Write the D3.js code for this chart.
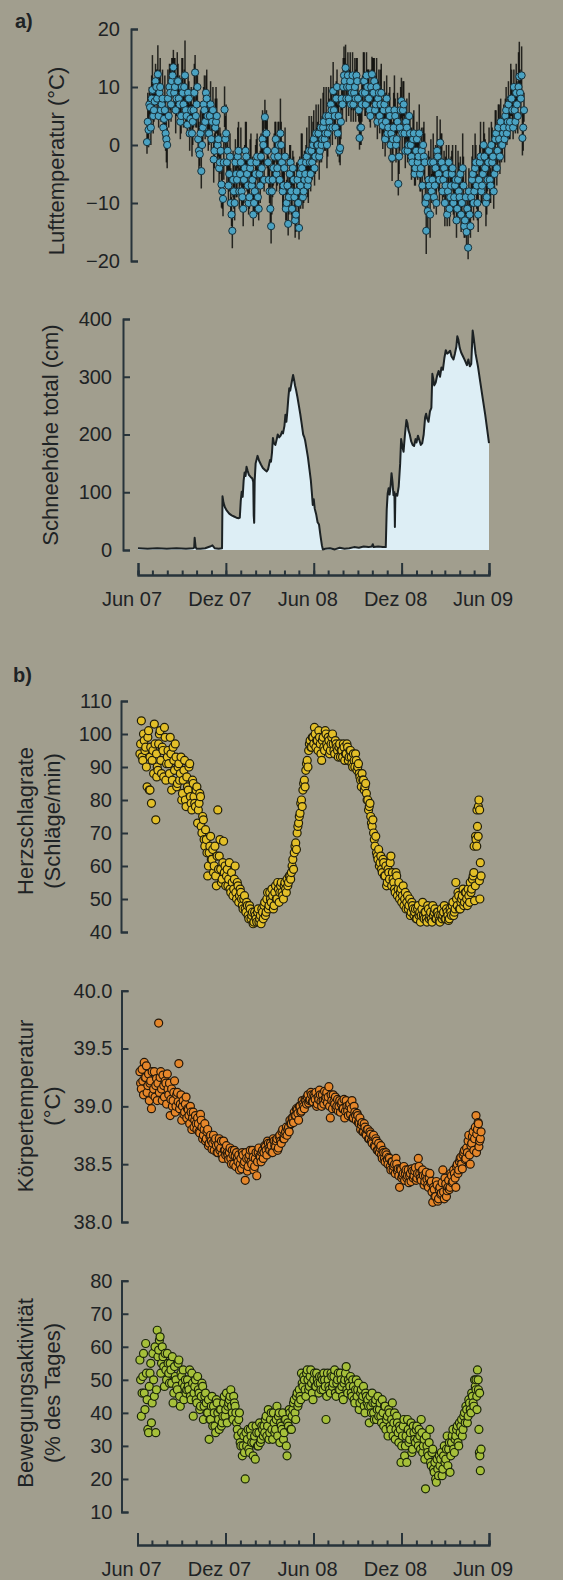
<!DOCTYPE html>
<html><head><meta charset="utf-8">
<script src="https://cdn.jsdelivr.net/npm/d3@7"></script>
<style>
html,body{margin:0;padding:0;background:#a19e8e;}
svg{display:block;}
text{font-family:"Liberation Sans",Arial,Helvetica,sans-serif;fill:#1e2325;}
</style></head><body>
<svg id="c" width="563" height="1580"></svg>
<script>
// ---------- DATA ----------
// time reference: days since 1 Jun 2007
const startDate = Date.UTC(2007, 5, 1);
const xTickDates = ["2007-06-01","2007-12-01","2008-06-01","2008-12-01","2009-06-01"];
const xTickLabels = ["Jun 07","Dez 07","Jun 08","Dez 08","Jun 09"];

// a) Air temperature: daily mean + range (two interleaved day sets, 3-day steps)
const tempStepDays = 3;
const tempStartA = 0, tempStartB = 1.5;
const tempMean = [
 0.5,2.6,6.5,8,5,7.5,10,12.2,9,6,
 8,4.5,2,0,5,9,11,13.4,10,8,
 11,7,5,9,10,6,3.5,8,4.5,2,
 6,12.5,7,1,-1.6,-4.5,3,6,9,5,
 2,7,4,-2.5,3,5,1,-3,-6.8,-9.3,
 6.1,2,-1,-5,-10,-14.8,-8,-3,-6,-1,
 -5,-8,-11,-4,-2,-7,-9,-3,-6,-10,
 -5,-2,-11,-7,-4,0,4.8,2,-3,-8,
 -14,-6,-2,1,-4,0,2,-3,-7,-2,
 -10,-13.6,-5,-8,-4,-9,-12,-6,-14.3,-7,
 -4,-8,-5,-2,-6,-3,-1,0,-4,2,
 0,-2,3,1,4,2,0,5,3,6,
 9.3,5,8,2,-1,4,7,12,13.3,10,
 8,11,9,7,10,12,8,1.2,3,9,
 11,7,10,8,5,12.2,9,6,10,8,
 5,9,3.3,7,4,2,6,0,-2.2,3,
 5,1,-6.7,3,7.6,6,2,4,-1,5,
 0,-3,2,-4,1,-2,-5,-1,0,-3,
 -14.8,-11.4,-7,-3,-6,-9,-4,-1,-5,0.4,
 -3,-6,-10,-5,-8,-11,-7,-4,-9,-6,
 -11,-8,-5,-10,-7,-13,-15,-17.7,-12,-9,
 -5,-8,-3,-10,-6,-2,-7,0,-4,-9,
 -3,-6,0,-2,-5,2,-1,1,4,0,
 3,5,2,7,4,8,3,6,9,5,
 11.8,8,1.2,6];
const tempUp = [
 4,5,3,4,6,4,3,5,4,3, 5,4,6,3,4,5,4,3,5,4, 3,5,4,6,3,4,5,3,4,5, 4,3,5,4,3,5,4,6,3,4,
 5,4,3,4,5,3,4,6,4,3, 4,5,3,4,6,3,5,4,3,5, 4,3,5,4,6,4,3,5,4,3, 5,4,3,6,4,5,3,4,5,4,
 3,5,4,3,5,4,6,3,4,5, 4,3,5,4,3,5,4,3,5,4, 6,3,4,5,3,4,6,4,3,5, 4,3,5,4,6,3,4,5,3,4,
 5,4,3,5,6,4,3,5,4,3, 4,5,3,4,5,3,4,5,4,3, 5,4,3,5,4,3,6,4,5,3, 4,5,3,4,5,4,3,5,4,6,
 3,4,5,3,4,5,4,3,5,4, 3,5,4,6,3,4,5,4,3,5, 4,3,5,4,3,5,4,6,3,4, 5,3,4,5,4,3,5,4,3,6,
 4,5,3,4,5,3,4,5,4,3, 5,4,3,5,4,6,3,4,5,4, 3,5,4,3,5,4,3,6,4,5, 4,3,5,4,3,5,4,3,5,4,
 6,4,5,3];
const tempDown = [
 2,3,4,2,3,3,2,4,3,2, 3,2,3,4,2,3,3,2,4,3, 2,3,3,2,4,3,2,3,3,4, 3,2,4,3,2,3,3,2,4,3,
 2,3,3,4,2,3,3,2,4,3, 3,2,4,3,2,3,3,2,3,4, 2,3,3,2,4,3,2,3,3,2, 4,3,2,3,3,4,2,3,3,2,
 3,3,4,2,3,3,2,4,3,2, 3,2,3,4,3,2,3,3,2,4, 3,2,3,3,4,2,3,2,3,3, 2,4,3,3,2,3,4,2,3,3,
 2,3,3,4,2,3,3,2,4,3, 3,2,3,3,2,4,3,2,3,3, 4,2,3,3,2,3,4,3,2,3, 3,2,4,3,3,2,3,3,4,2,
 3,3,2,4,3,2,3,3,2,4, 3,2,3,3,4,2,3,3,2,3, 4,3,2,3,3,2,4,3,3,2, 3,3,4,2,3,3,2,3,4,3,
 2,3,3,4,2,3,3,2,3,3, 4,2,3,3,2,4,3,3,2,3, 3,4,2,3,3,2,3,4,3,2, 3,3,2,4,3,3,2,3,4,3,
 2,3,3,2];
const tempMean2 = [
 4,7,3,9.5,6,11,8,5,10,7,
 3,6,1,8,10,7,12,9,6,11,
 8,4,10,7,12,5,9,2,6,4,
 9,5,10,-1,2,0,7,4,8,2,
 5,1,6,-1,4,0,-4,-1,-8,-3,
 1,-3,-7,-2,-12,-6,-10,-5,-2,-8,
 -3,-9,-6,-1,-5,-10,-4,-7,-12,-8,
 -3,-9,-5,-2,1,-6,2,-1,-6,-11,
 -8,-4,-1,-5,-2,-6,0,-8,-4,-11,
 -7,-9,-3,-11,-6,-13,-8,-10,-5,-3,
 -9,-6,-3,-7,-1,-5,-3,1,-2,0,
 2,-1,0,3,1,5,2,4,7,3,
 6,3,10,5,-0.5,8,10,11,8,12,
 10,7,12,9,8,11,6,3,7,11,
 9,12,8,6,10,9,11,7,4,9,
 7,4,6,1,8,3,5,2,1,6,
 0,4,-2,6,2,7,-1,3,0,2,
 -2,1,-5,-1,-3,2,-4,-7,-2,-10,
 -9,-6,-12,-8,-3,-7,-10,-2,-6,-3,
 -8,-4,-7,-12,-3,-9,-5,-10,-7,-13,
 -6,-9,-12,-4,-14,-9,-11,-8,-14,-6,
 -10,-4,-7,-12,-3,-8,-5,-2,-10,-6,
 -1,-7,-3,-8,1,-4,3,-2,0,2,
 1,6,4,3,8,6,10,4,7,10,
 9,12,3];
const tempUp2 = [
 5,3,4,6,4,3,5,4,5,3, 4,6,3,5,4,4,3,6,4,5, 3,4,5,3,6,4,3,5,4,3, 5,4,3,5,4,6,3,4,5,4,
 3,5,4,3,6,4,5,3,4,5, 4,3,6,4,3,5,4,3,5,4, 6,4,3,5,4,3,5,4,6,3, 4,5,3,4,5,4,3,6,4,5,
 4,3,5,4,6,3,4,5,4,3, 5,4,3,6,4,3,5,4,3,5, 4,5,3,4,6,4,3,5,4,3, 5,3,4,6,4,5,3,4,5,3,
 4,6,3,5,4,3,5,4,6,4, 3,5,4,3,5,4,3,6,4,5, 3,4,5,4,3,6,4,5,3,4, 6,4,3,5,4,3,5,4,3,6,
 4,5,3,4,6,4,3,5,4,3, 5,4,6,3,4,5,3,4,6,4, 3,5,4,3,5,4,6,3,4,5, 4,3,5,4,3,6,4,5,3,4,
 5,4,3,6,4,5,3,4,5,4, 3,6,4,5,3,4,5,4,3,5, 4,3,6,4,5,3,4,5,4,3, 5,4,3,5,6,4,3,5,4,6,
 4,5,3];
const tempDown2 = [
 3,2,3,4,2,3,3,2,4,3, 2,3,4,2,3,3,2,3,4,2, 3,3,2,4,3,2,3,3,2,4, 3,2,3,3,4,2,3,3,2,3,
 4,2,3,3,2,4,3,2,3,3, 2,4,3,3,2,3,3,4,2,3, 3,2,4,3,3,2,3,3,2,4, 3,3,2,3,4,2,3,3,2,3,
 4,3,2,3,3,2,4,3,3,2, 3,3,4,2,3,3,2,3,4,3, 2,3,3,2,4,3,3,2,3,3, 4,2,3,3,2,3,4,3,2,3,
 3,2,4,3,3,2,3,3,4,2, 3,3,2,3,4,3,2,3,3,2, 4,3,3,2,3,3,4,2,3,3, 2,3,4,3,2,3,3,2,4,3,
 3,2,3,3,4,2,3,3,2,3, 4,3,2,3,3,2,4,3,3,2, 3,3,4,2,3,3,2,3,4,3, 2,3,3,2,4,3,3,2,3,3,
 4,2,3,3,2,3,4,3,2,3, 3,2,4,3,3,2,3,3,4,2, 3,3,2,3,4,3,2,3,3,2, 4,3,3,2,3,3,4,2,3,3,
 2,3,4];

// a) Total snow depth (cm)
const snowDay = [0,20,40,60,80,100,115,117,118,120,122,130,140,150,155,160,168,175,
 176,178,181,185,190,195,200,205,210,212,214,216,218,220,222,224,226,228,231,235,238,240,241,242,243,245,249,252,256,260,265,268,271,273,275,277,279,281,283,286,289,291,294,297,300,302,305,307,309,311,313,315,317,320,323,325,327,329,332,335,338,341,344,346,348,351,354,357,360,362,364,366,368,371,374,377,380,383,385,
 390,400,410,420,430,440,450,460,470,480,487,489,491,500,510,515,
 516,518,520,522,524,526,528,530,532,534,535,536,538,540,543,546,548,551,553,556,559,561,563,566,569,572,575,578,580,583,586,589,592,595,598,600,602,605,608,611,613,615,617,620,623,626,629,632,635,638,641,644,647,650,653,657,660,663,665,667,670,673,677,681,685,688,691,694,697,699,703,708,713,718,723,727,731];
const snowCm = [3,2,3,2,3,2,3,4,21,5,2,2,3,6,8,3,2,3,
 93,82,74,68,63,60,58,56,55,56,85,101,92,120,134,128,144,138,130,126,124,118,60,47,120,150,163,155,148,142,138,136,140,148,156,153,168,194,185,182,192,200,195,198,205,202,215,234,222,240,262,280,276,290,303,295,285,278,265,250,235,218,200,196,190,175,160,140,120,100,78,88,72,62,48,44,25,8,1,
 2,3,1,4,2,3,5,4,6,5,6,10,5,6,5,5,
 5,70,98,107,96,110,133,118,95,100,40,95,97,94,110,150,192,178,170,200,225,220,208,200,188,182,180,192,186,198,190,182,185,200,230,236,228,222,240,246,305,296,285,290,302,310,300,316,312,332,346,340,342,345,335,330,340,352,370,365,350,342,335,328,320,330,318,322,380,368,340,318,290,262,235,210,185];

// b) physiological series: every 3 days, two interleaved day sets
const bStartDay = 5, bStartDay2 = 6.5, bStepDays = 3;
const heartRate = [
 94,104,92,98,96,84,101,93,79,95, 103,74,90,97,101,88,95,102,86,93,
 91,99,83,96,89,93,85,91,88,80, 86,92,78,84,90,81,77,85,79,83,
 73,79,81,70,74,66,68,57,64,69, 62,58,66,54,77,63,59,56,67.5,60,
 57,54,61,52,55,53,60,50,54,51, 52,48,50,47,49,45,48,44,46,43,
 45,43,47,44,42.5,46,48,45,50,47, 52,49,51,48,54,50,53,52,55,51,
 54,53,56,55,57,58,62,64,67,70, 73,76,80,83,86,89,92,95,98,96,
 99,102,96,98,101,97,92,99,95,100, 96,98,95,99,97,94,97,95,96,93,
 95,97,92,94,96,93,95,91,94,90, 92,90,88,86,88,86,84,82,80,78,
 75,72,70,66,64,62,60,63,58,61, 57,54,59,56,63,58,55,52,57,53,
 50,53,51,48,52,49,47,50,46,48, 45,47,44,48,46,45,49,44,46,43,
 47,45,44,48,46,44,46,45,43,47, 45,48,44,46,43.5,47,45,49,46,55,
 48,51,47,50,53,49,52,48,51,55, 53,57,49.5,68,72,80,61];
const heartRate2 = [
 97,93,100,95,90,99,83,96,92,88, 97,94,89,100,92,96,87,99,91,95,
 88,94,86,92,97,84,90,86,93,82, 89,80,87,83,91,79,86,81,78,84,
 77,82,72,75,68,71,64,60,66,62, 65,60,57,63,59,68,55,61,58,54,
 59,56,53,58,51,56,52,55,49,53, 50,47,51,46,48,44,47,45,42.5,46,
 44,46,43,45,47,44,49,46,52,48, 50,53,47,52,50,55,49,54,52,50,
 55,52,54,57,56,60,59,66,65,72, 75,79,78,85,84,91,90,97,96,99,
 97,100,98,95,99,94,98,96,101,97, 99,94,97,100,95,98,96,93,97,95,
 93,96,94,97,92,95,93,90,92,94, 89,91,87,84,86,83,85,80,77,79,
 73,74,68,69,63,65,61,59,62,57, 60,55,58,61,54,56,53,58,51,55,
 52,49,54,50,47,51,48,45,49,47, 46,44,47,45,43,47,45,46,44,48,
 44,46,43,45,47,44,46,43.5,45,44, 46,44,47,45,44,46,48,45,47,50,
 52,47,49,51,48,52,50,53,49,52, 56,58,54,66,69,77,57];
const heartExtraDay = [26,40,700,703,706,709,711,712];
const heartExtraVal = [83,87,66,69,77,78,55.5,50];

const bodyTemp = [
 39.3,39.15,39.22,39.38,39.25,39.12,39.28,39.2,38.98,39.1,
 39.3,39.18,39.05,39.72,39.25,39.15,39.27,39.08,39.2,39.28,
 39.1,38.92,39.15,39.05,39.22,39.0,39.12,39.37,39.02,38.88,
 39.05,38.95,39.08,38.98,38.92,39.0,38.8,38.95,38.88,38.85,
 38.9,38.78,38.93,38.82,38.75,38.85,38.72,38.8,38.68,38.75,
 38.63,38.75,38.7,38.66,38.6,38.72,38.64,38.58,38.7,38.62,
 38.66,38.58,38.6,38.55,38.62,38.5,38.57,38.6,38.52,38.45,
 38.55,38.6,38.5,38.36,38.55,38.48,38.58,38.52,38.62,38.45,
 38.55,38.4,38.6,38.57,38.52,38.62,38.6,38.65,38.58,38.68,
 38.62,38.66,38.6,38.7,38.65,38.72,38.64,38.75,38.68,38.8,
 38.72,38.78,38.75,38.82,38.88,38.85,38.9,38.95,38.92,38.97,
 38.88,39.0,38.96,39.02,38.98,39.05,39.08,39.03,39.06,39.1,
 39.04,39.08,39.12,39.02,39.06,39.1,39.0,39.05,39.13,39.08,
 39.03,39.17,38.9,39.05,39.1,39.02,38.98,39.06,39.0,38.95,
 39.04,38.98,38.9,39.05,38.96,39.0,38.93,39.05,38.9,38.95,
 38.88,38.92,38.85,38.8,38.86,38.78,38.82,38.75,38.8,38.72,
 38.76,38.68,38.75,38.65,38.7,38.62,38.6,38.66,38.55,38.6,
 38.52,38.58,38.5,38.55,38.45,38.52,38.48,38.42,38.5,38.46,
 38.3,38.45,38.4,38.48,38.42,38.38,38.45,38.4,38.35,38.44,
 38.4,38.47,38.38,38.55,38.42,38.36,38.45,38.32,38.4,38.37,
 38.3,38.42,38.35,38.17,38.28,38.22,38.32,38.2,38.3,38.25,
 38.45,38.2,38.33,38.27,38.36,38.3,38.4,38.35,38.42,38.3,
 38.5,38.45,38.55,38.5,38.58,38.62,38.55,38.6,38.75,38.5,
 38.68,38.78,38.72,38.92,38.8,38.65,38.72];
const bodyTemp2 = [
 39.2,39.32,39.1,39.25,39.35,39.18,39.05,39.22,39.3,39.15,
 39.08,39.24,39.2,39.12,39.3,39.05,39.18,39.22,39.02,39.15,
 39.2,39.06,39.0,39.12,38.95,39.1,39.04,38.98,39.1,39.0,
 38.93,39.02,38.9,38.97,38.85,38.95,38.9,38.82,38.92,38.8,
 38.85,38.77,38.88,38.72,38.8,38.7,38.78,38.66,38.74,38.7,
 38.68,38.62,38.72,38.6,38.67,38.62,38.7,38.55,38.62,38.58,
 38.6,38.54,38.64,38.5,38.58,38.62,38.48,38.55,38.58,38.5,
 38.46,38.58,38.52,38.6,38.44,38.55,38.62,38.5,38.56,38.48,
 38.6,38.52,38.64,38.56,38.6,38.55,38.66,38.62,38.7,38.64,
 38.68,38.6,38.72,38.66,38.7,38.62,38.74,38.7,38.78,38.72,
 38.76,38.82,38.8,38.78,38.85,38.9,38.86,38.92,38.98,38.94,
 39.0,38.95,39.05,39.0,39.06,39.02,39.1,39.05,39.12,39.04,
 39.1,39.06,39.0,39.08,39.14,39.04,39.1,39.02,39.06,39.12,
 39.08,39.0,39.1,38.98,39.04,39.08,39.0,38.96,39.05,39.02,
 38.98,39.06,38.96,39.0,38.92,39.02,38.98,38.9,39.0,38.92,
 38.94,38.86,38.9,38.84,38.78,38.85,38.76,38.8,38.72,38.78,
 38.7,38.74,38.66,38.72,38.62,38.68,38.64,38.58,38.62,38.55,
 38.6,38.54,38.56,38.48,38.52,38.45,38.5,38.55,38.44,38.4,
 38.46,38.38,38.42,38.36,38.45,38.4,38.34,38.42,38.46,38.38,
 38.44,38.36,38.42,38.48,38.38,38.44,38.4,38.35,38.43,38.32,
 38.38,38.34,38.26,38.3,38.22,38.35,38.18,38.28,38.24,38.34,
 38.26,38.38,38.22,38.3,38.28,38.42,38.34,38.45,38.38,38.48,
 38.42,38.52,38.56,38.46,38.6,38.54,38.64,38.7,38.58,38.66,
 38.74,38.62,38.82,38.76,38.86,38.7,38.78];
const bodyExtraDay = [705,709];
const bodyExtraVal = [38.6,38.85];

const activity = [
 56,39,51,46,61,44,34,52,37,58,45,34,
 65,59,63,55,57,48,53,
 58,52,55,49,43,54,50,47,56,42,51,53,48,46,
 50,47,45,52,39,48,44,51,46,42,49,38,45,43,
 40,32,38,45,42,36,44,40,35,41,37,43,39,46,42,44,47,40,
 45,42,37,33,40,30,
 27,33,20,30,35,28,33,36,31,26,34,30,37,32,35,
 36,38,33,41,34,40,32,37,35,42,39,31,36,40,34,38,27,36,40,
 35,41,44,38,46,43,45,
 52,48,50,45,53,47,51,49,44,52,48,50,46,
 49,51,47,50,38,52,48,46,51,49,53,45,50,47,52,48,44,50,54,46,49,51,45,48,43,50,47,41,46,44,48,40,45,
 44,37,42,46,40,43,38,45,41,39,44,36,42,38,33,40,35,43,37,32,39,34,36,
 25,33,38,30,25,35,32,37,29,34,31,
 36,30,33,38,28,32,17,30,27,35,24,29,
 22,20,26,21,
 24,28,23,30,26,33,29,22,31,35,28,33,36,30,
 34,38,35,40,42,37,44,41,46,43,50,47,53,35,22.5];
const activity2 = [
 50,46,58,41,52,35,48,55,43,50,60,47,
 57,62,52,60,54,58,50,
 55,49,53,57,46,51,48,55,45,52,49,44,50,47,
 48,53,44,49,46,50,43,47,41,45,48,42,46,40,
 44,38,42,36,40,34,43,38,41,36,39,45,41,37,43,45,42,38,
 43,40,35,38,31,34,
 30,28,34,32,29,35,31,27,33,36,30,34,31,36,33,
 34,39,36,32,38,35,40,34,38,33,40,37,35,32,38,30,37,41,35,
 39,43,40,45,42,47,44,
 49,51,47,52,50,48,53,46,50,48,52,49,51,
 47,50,52,48,45,50,47,52,48,51,46,49,52,47,50,45,49,52,47,50,48,46,50,44,47,45,49,43,47,45,42,46,43,
 42,45,40,43,38,44,41,39,43,37,40,42,35,39,41,36,38,33,40,35,37,31,35,
 30,36,27,33,38,31,34,28,36,32,35,
 32,35,29,34,30,26,33,28,31,25,28,23,
 25,19,23,27,
 26,21,27,25,29,24,31,27,33,29,32,35,31,37,
 36,33,39,37,41,39,43,40,45,42,48,45,50,46,29];
const actExtraDay = [704,706,709,711,712];
const actExtraVal = [50,41,47,28,27];

// ---------- DRAWING ----------
const DAY = 864e5;
const toDate = d => new Date(startDate + d * DAY);
const svg = d3.select("#c");
const axisColor = "#27333a";
const dom = [new Date(Date.UTC(2007,5,1)), new Date(Date.UTC(2009,5,1))];
const majorDates = xTickDates.map(s => new Date(s + "T00:00:00Z"));

const xTemp = d3.scaleUtc().domain(dom).range([147, 525]);
const xSnow = d3.scaleUtc().domain(dom).range([138, 489]);
const xB = d3.scaleUtc().domain(dom).range([137.5, 489]);

const yTemp = d3.scaleLinear().domain([-20, 20]).range([261, 29]);
const ySnow = d3.scaleLinear().domain([0, 400]).range([550, 319]);
const yHeart = d3.scaleLinear().domain([40, 110]).range([932, 701]);
const yBody = d3.scaleLinear().domain([38, 40]).range([1222, 990.7]);
const yAct = d3.scaleLinear().domain([10, 80]).range([1512, 1280.7]);

function styleAxis(g) {
  g.selectAll("path.domain").attr("stroke", axisColor).attr("stroke-width", 2).attr("fill", "none");
  g.selectAll(".tick line").attr("stroke", axisColor).attr("stroke-width", 2);
  g.selectAll(".tick text").attr("font-size", 20).attr("fill", "#1e2325")
    .attr("font-family", '"Liberation Sans",Arial,sans-serif');
}
function yAxis(scale, x, ticks, fmt, pad) {
  const g = svg.append("g").attr("transform", `translate(${x},0)`)
    .call(d3.axisLeft(scale).tickValues(ticks).tickFormat(fmt).tickSize(-7).tickPadding(pad));
  styleAxis(g);
}
function xAxis(scale, y) {
  const g1 = svg.append("g").attr("transform", `translate(0,${y})`)
    .call(d3.axisBottom(scale).ticks(d3.utcMonth.every(1)).tickSize(-4.5).tickFormat(""));
  styleAxis(g1);
  const g2 = svg.append("g").attr("transform", `translate(0,${y})`)
    .call(d3.axisBottom(scale).tickValues(majorDates).tickSize(-12).tickPadding(17)
      .tickFormat((d, i) => xTickLabels[i]));
  styleAxis(g2);
  g2.selectAll(".tick text").attr("dx", -6.5);
}
function title(lines, cx, cy, size) {
  lines.forEach((t, i) => {
    svg.append("text").attr("transform", `translate(${cx[i]},${cy}) rotate(-90)`)
      .attr("text-anchor", "middle").attr("dominant-baseline", "central")
      .attr("font-size", size).text(t);
  });
}

// panel labels
svg.append("text").attr("x", 15).attr("y", 28).attr("font-size", 20).attr("font-weight", "bold").text("a)");
svg.append("text").attr("x", 13).attr("y", 682).attr("font-size", 20).attr("font-weight", "bold").text("b)");

// ---- Air temperature ----
const mkTemp = (means, ups, downs, start) => means.map((v, i) =>
  ({d: toDate(start + i * tempStepDays), v, hi: v + ups[i], lo: v - downs[i]}));
const tempData = mkTemp(tempMean, tempUp, tempDown, tempStartA)
  .concat(mkTemp(tempMean2, tempUp2, tempDown2, tempStartB))
  .sort((a, b) => a.d - b.d);
svg.append("g").selectAll("line").data(tempData).join("line")
  .attr("x1", d => xTemp(d.d)).attr("x2", d => xTemp(d.d))
  .attr("y1", d => yTemp(d.lo)).attr("y2", d => yTemp(d.hi))
  .attr("stroke", "#0e0e0c").attr("stroke-width", 1.5).attr("stroke-opacity", 0.85);
svg.append("g").selectAll("circle").data(tempData).join("circle")
  .attr("cx", d => xTemp(d.d)).attr("cy", d => yTemp(d.v)).attr("r", 3.6)
  .attr("fill", "#4aa2c2").attr("stroke", "#17303a").attr("stroke-width", 1);
yAxis(yTemp, 131, [-20, -10, 0, 10, 20], d3.format("d"), 11);
title(["Lufttemperatur (°C)"], [56], 161, 22);

// ---- Snow ----
const snowData = snowDay.map((d, i) => ({d: toDate(d), v: snowCm[i]}));
svg.append("path").datum(snowData)
  .attr("d", d3.area().x(d => xSnow(d.d)).y0(ySnow(0)).y1(d => ySnow(d.v)))
  .attr("fill", "#ddeef5");
svg.append("path").datum(snowData)
  .attr("d", d3.line().x(d => xSnow(d.d)).y(d => ySnow(d.v)))
  .attr("fill", "none").attr("stroke", "#1c2224").attr("stroke-width", 2).attr("stroke-linejoin", "round");
yAxis(ySnow, 123, [0, 100, 200, 300, 400], d3.format("d"), 11);
title(["Schneehöhe total (cm)"], [50.5], 435, 22);
xAxis(xSnow, 575);

// ---- panel b scatter helper ----
function scatter(vals, vals2, exDay, exVal, y, fill, stroke) {
  const data = vals.map((v, j) => ({d: toDate(bStartDay + j * bStepDays), v}))
    .concat(vals2.map((v, j) => ({d: toDate(bStartDay2 + j * bStepDays), v})))
    .concat(exDay.map((d, k) => ({d: toDate(d), v: exVal[k]})))
    .sort((a, b) => a.d - b.d);
  svg.append("g").selectAll("circle").data(data).join("circle")
    .attr("cx", d => xB(d.d)).attr("cy", d => y(d.v)).attr("r", 4)
    .attr("fill", fill).attr("stroke", stroke).attr("stroke-width", 1.2);
}
scatter(heartRate, heartRate2, heartExtraDay, heartExtraVal, yHeart, "#e3bf28", "#1f1d0c");
yAxis(yHeart, 121, [40, 50, 60, 70, 80, 90, 100, 110], d3.format("d"), 9);
title(["Herzschlagrate", "(Schläge/min)"], [25, 52], 821, 22);

scatter(bodyTemp, bodyTemp2, bodyExtraDay, bodyExtraVal, yBody, "#e5862a", "#22180c");
yAxis(yBody, 121.5, [38, 38.5, 39, 39.5, 40], d3.format(".1f"), 9);
title(["Körpertemperatur", "(°C)"], [25, 52], 1106, 22);

scatter(activity, activity2, actExtraDay, actExtraVal, yAct, "#a6c03a", "#1a240c");
yAxis(yAct, 121.5, [10, 20, 30, 40, 50, 60, 70, 80], d3.format("d"), 9);
title(["Bewegungsaktivität", "(% des Tages)"], [25, 52], 1393, 22);
xAxis(xB, 1545);
</script>
</body></html>
